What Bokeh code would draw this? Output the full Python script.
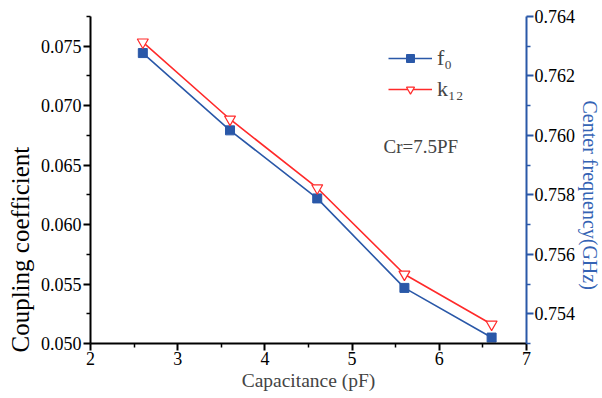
from bokeh.plotting import figure
from bokeh.models import (Range1d, LinearAxis, FixedTicker, PrintfTickFormatter,
                          Legend, LegendItem, Label, Title)
from bokeh.embed import file_html
from bokeh.resources import INLINE

# ---- data ----
capacitance = [2.6, 3.6, 4.6, 5.6, 6.6]
f0_ghz = [0.76277, 0.76017, 0.75788, 0.75487, 0.75320]
k12 = [0.07534, 0.06886, 0.06308, 0.05582, 0.05162]

x_ticks = [2, 3, 4, 5, 6, 7]
x_minor = [2.5, 3.5, 4.5, 5.5, 6.5]
left_ticks = [0.050, 0.055, 0.060, 0.065, 0.070, 0.075]
left_minor = [0.0525, 0.0575, 0.0625, 0.0675, 0.0725, 0.0775]
right_ticks = [0.754, 0.756, 0.758, 0.760, 0.762, 0.764]
right_minor = [0.753, 0.755, 0.757, 0.759, 0.761, 0.763]

BLUE = "#2a58a8"
TITLE_BLUE = "#3463b4"
RED = "#ff2a2a"
FONT = "Liberation Serif"

p = figure(width=602, height=398, output_backend="svg", toolbar_location=None,
           x_range=Range1d(2, 7), y_range=Range1d(0.050, 0.0775),
           min_border_left=90, min_border_right=72, min_border_top=16,
           min_border_bottom=55)
p.extra_y_ranges = {"f": Range1d(0.753, 0.764)}
p.outline_line_color = None
p.xgrid.visible = False
p.ygrid.visible = False
p.background_fill_color = "white"
p.border_fill_color = "white"


def style_axis(ax, size="18px"):
    ax.axis_line_width = 2
    ax.major_tick_line_width = 2
    ax.minor_tick_line_width = 1.5
    ax.major_tick_out = 7
    ax.major_tick_in = 0
    ax.minor_tick_out = 4
    ax.minor_tick_in = 0
    ax.major_label_text_font = FONT
    ax.major_label_text_font_size = size
    ax.major_label_text_font_style = "normal"
    ax.major_label_text_color = "black"
    ax.axis_label_text_font = FONT
    ax.axis_label_text_font_style = "normal"


# x axis
xa = p.xaxis[0]
xa.ticker = FixedTicker(ticks=x_ticks, minor_ticks=x_minor)
style_axis(xa)
xa.axis_label = "Capacitance (pF)"
xa.axis_label_text_font_size = "19.5px"
xa.major_label_standoff = 1
xa.axis_label_standoff = 2

# left axis
ya = p.yaxis[0]
ya.ticker = FixedTicker(ticks=left_ticks, minor_ticks=left_minor)
ya.formatter = PrintfTickFormatter(format="%.3f")
style_axis(ya)
ya.major_label_standoff = 2

# right axis
ra = LinearAxis(y_range_name="f",
                ticker=FixedTicker(ticks=right_ticks, minor_ticks=right_minor),
                formatter=PrintfTickFormatter(format="%.3f"))
style_axis(ra)
ra.axis_line_color = BLUE
ra.major_tick_line_color = BLUE
ra.minor_tick_line_color = BLUE
ra.major_label_standoff = 1
p.add_layout(ra, "right")

# axis titles, placed off-centre like the reference
p.add_layout(Title(text="Coupling coefficient", align="left", offset=-9, standoff=8,
                   text_font=FONT, text_font_size="25px", text_font_style="normal",
                   text_color="black"), "left")
p.add_layout(Title(text="Center frequency(GHz)", align="left", offset=84, standoff=0,
                   text_font=FONT, text_font_size="20px", text_font_style="normal",
                   text_color=TITLE_BLUE), "right")

# series
f_line = p.line(capacitance, f0_ghz, y_range_name="f", line_color=BLUE, line_width=1.6)
f_pts = p.scatter(capacitance, f0_ghz, y_range_name="f", marker="square", size=9,
                  fill_color=BLUE, line_color=BLUE)
k_line = p.line(capacitance, k12, line_color=RED, line_width=1.6)
k_pts = p.scatter(capacitance, k12, marker="inverted_triangle", size=11,
                  fill_color="white", line_color=RED, line_width=1.2)

legend = Legend(items=[LegendItem(label="f\u2080", renderers=[f_line, f_pts]),
                       LegendItem(label="k\u2081\u2082", renderers=[k_line, k_pts])],
                location=(298, 241), glyph_width=44, glyph_height=20,
                label_height=20, spacing=5, padding=0, margin=0,
                border_line_color=None, background_fill_alpha=0,
                label_text_font=FONT, label_text_font_size="22px",
                label_standoff=5)
p.add_layout(legend)

p.add_layout(Label(x=5.36, y=0.0666, text="Cr=7.5PF", text_font=FONT,
                   text_font_size="19px", text_baseline="middle"))

open("out.html", "w").write(file_html(p, INLINE))
